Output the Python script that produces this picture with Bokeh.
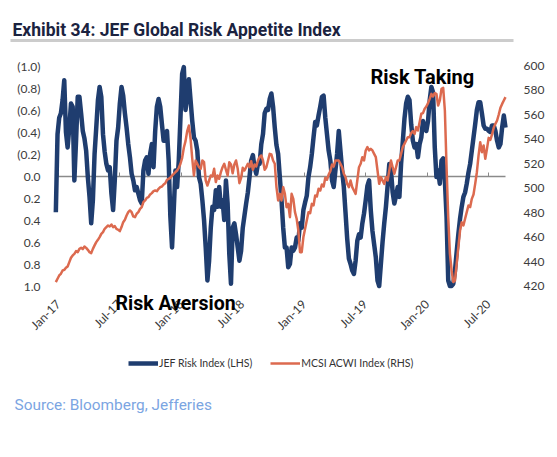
import math
from datetime import datetime
import pandas as pd
from bokeh.plotting import figure
from bokeh.models import (Range1d, LinearAxis, DatetimeAxis, FixedTicker, DatetimeTickFormatter,
                          Label, BoxAnnotation, Legend, LegendItem, ColumnDataSource)
from bokeh.embed import file_html
from bokeh.resources import INLINE

# ---------------- data (one value every 5 days) ----------------
START = "2016-12-25"
STEP = "5D"

JEF = [
    0.33, -0.38, -0.53, -0.57, -0.69, -0.87, -0.40, -0.26, -0.44, -0.66,
    -0.63, 0.04, -0.32, -0.72, -0.72, -0.57, -0.41, -0.34, -0.23, 0.01,
    0.19, 0.43, 0.22, -0.20, -0.44, -0.69, -0.81, -0.72, -0.38, -0.22,
    -0.11, -0.05, -0.08, 0.16, 0.31, 0.04, -0.32, -0.44, -0.66, -0.81,
    -0.73, -0.57, -0.44, -0.29, -0.17, -0.02, 0.04, 0.13, 0.10, 0.16,
    0.22, 0.25, -0.05, -0.14, -0.17, -0.02, -0.20, -0.29, -0.08, -0.41,
    -0.63, -0.70, -0.63, -0.47, -0.32, -0.32, -0.41, -0.14, 0.37,
    0.65, 0.31, -0.05, 0.10, -0.14, -0.53, -0.93, -0.99, -0.60, -0.72,
    -0.88, -0.69, -0.50, -0.35, -0.32, -0.23, 0.01, 0.07, 0.22, 0.40,
    0.65, 0.95, 0.77, 0.47, 0.28, 0.31, 0.13, 0.28, 0.10, 0.28,
    0.22, 0.40, 0.04, 0.25, 0.71, 0.98, 0.47, 0.43, 0.53, 0.65,
    0.77, 0.68, 0.47, 0.36, 0.25, 0.15, 0.01, -0.14, -0.19, -0.08,
    -0.02, -0.11, -0.11, -0.29, -0.38, -0.57, -0.61, -0.60, -0.70, -0.75,
    -0.63, -0.44, -0.28, -0.20, 0.01, 0.22, 0.47,
    0.65, 0.65, 0.83, 0.80, 0.65, 0.68, 0.65, 0.56, 0.59, 0.43,
    0.47, 0.31, 0.24, 0.18, 0.01, -0.08, -0.20, -0.35, -0.49, -0.46,
    -0.55, -0.63, -0.72, -0.73, -0.53, -0.38, -0.23, -0.14, 0.04, 0.10,
    -0.05, -0.20, -0.41, -0.23, -0.05, 0.10, 0.33, 0.57, 0.75, 0.80,
    0.86, 0.89, 0.77, 0.59, 0.53, 0.56, 0.43, 0.34, 0.22, 0.09,
    0.04, 0.31, 0.50, 0.62, 0.74, 0.95, 1.00, 0.80, 0.60, 0.43,
    0.28, 0.09, -0.11, -0.05, 0.15, 0.25, 0.18, 0.10,
    0.19, -0.11, -0.31, -0.52, -0.66, -0.72, -0.69, -0.47, -0.32, -0.26,
    -0.29, -0.17, -0.29, -0.35, -0.50, -0.44, -0.41, -0.50, -0.69, -0.81,
    -0.76, -0.26, 0.01, -0.05, 0.07, -0.14, -0.16, 0.04, 0.37, 0.95,
    1.00, 1.00, 0.98, 0.86, 0.69, 0.53, 0.39, 0.28, 0.19, 0.15,
    0.07, -0.03, -0.11, -0.23, -0.35, -0.47, -0.60, -0.67, -0.67, -0.57,
    -0.46, -0.43, -0.43, -0.41, -0.40, -0.46, -0.46, -0.41, -0.32, -0.26,
    -0.29, -0.44, -0.55, -0.44,
]

ACWI = [
    423.2, 425.9, 428.6, 430.0, 432.7, 433.2, 434.9, 436.0, 439.5, 443.1,
    445.0, 446.3, 448.5, 447.7, 450.4, 451.2, 450.2, 452.3, 451.2, 449.6,
    447.7, 446.9, 450.4, 453.2, 455.9, 457.8, 460.0, 462.7, 464.1, 466.8,
    468.2, 469.5, 468.7, 470.3, 468.2, 469.0, 466.8, 466.0, 464.9, 468.2,
    472.2, 474.2, 477.7, 480.4, 481.8, 480.4, 476.9, 476.3, 479.1, 480.4,
    483.1, 484.5, 488.6, 490.0, 492.1, 492.7, 494.9, 496.0, 497.6, 498.1,
    497.6, 499.5, 500.9, 501.4, 503.1, 504.1, 506.9, 507.7, 508.5,
    510.4, 511.8, 513.1, 514.5, 516.7, 520.0, 524.9, 533.1, 538.5, 546.7,
    551.3, 540.4, 524.1, 510.4, 522.7, 520.0, 517.2, 515.9, 522.7, 521.3,
    506.3, 502.2, 506.3, 510.4, 509.6, 515.9, 505.0, 510.4, 507.7, 513.1,
    517.2, 520.0, 515.1, 510.4, 521.3, 519.4, 512.3, 519.4, 522.7, 515.9,
    504.1, 508.5, 516.7, 514.5, 517.2, 520.0, 517.2, 522.1, 515.1, 519.4,
    517.8, 522.7, 525.4, 526.8, 522.7, 515.1, 517.2, 522.7, 528.1, 527.6,
    522.7, 520.0, 500.9, 490.0, 495.4, 490.0, 500.9,
    495.4, 484.5, 487.2, 476.3, 495.4, 491.3, 480.4, 475.0, 465.4, 447.7,
    447.7, 460.0, 466.8, 473.6, 480.4, 479.6, 487.2, 485.9, 494.1, 493.2,
    499.5, 498.1, 503.1, 501.4, 508.5, 506.9, 511.2, 514.0, 519.4, 517.8,
    522.7, 522.7, 522.7, 520.0, 517.2, 511.8, 509.1, 503.6, 500.9, 506.3,
    500.9, 498.1, 495.4, 506.3, 517.2, 520.0, 525.4, 522.7, 530.9, 533.6,
    530.9, 532.2, 530.9, 528.1, 525.4, 514.5, 503.6, 509.1, 506.3, 503.6,
    509.1, 506.3, 514.5, 522.7, 517.2, 511.8, 517.2, 522.7,
    522.7, 528.1, 533.6, 536.3, 539.0, 541.8, 541.8, 545.1, 546.7, 544.5,
    550.0, 547.2, 554.0, 560.9, 561.4, 565.0, 566.9, 569.6, 573.1, 577.2,
    575.0, 577.8, 577.2, 567.7, 571.8, 581.3, 582.1, 563.6, 517.2, 476.3,
    446.3, 432.7, 423.2, 424.5, 438.1, 451.8, 465.4, 472.2, 469.5, 475.0,
    480.4, 485.9, 484.5, 491.3, 494.9, 503.6, 513.1, 526.8, 537.7, 529.5,
    535.0, 524.1, 532.2, 541.2, 539.6, 544.0, 549.4, 552.7, 555.4, 560.3,
    565.8, 569.0, 571.8, 574.5,
]

X_TICKS = ["2017-01-01", "2017-07-01", "2018-01-01", "2018-07-01",
           "2019-01-01", "2019-07-01", "2020-01-01", "2020-07-01"]
LEFT_TICKS = [-1.0, -0.8, -0.6, -0.4, -0.2, 0.0, 0.2, 0.4, 0.6, 0.8, 1.0]
LEFT_LABELS = ["(1.0)", "(0.8)", "(0.6)", "(0.4)", "(0.2)", "0.0",
               "0.2", "0.4", "0.6", "0.8", "1.0"]
RIGHT_TICKS = [420, 440, 460, 480, 500, 520, 540, 560, 580, 600]

SERIES_NAMES = ["JEF Risk Index (LHS)", "MCSI ACWI Index (RHS)"]
TITLE = "Exhibit 34: JEF Global Risk Appetite Index"
SOURCE = "Source: Bloomberg, Jefferies"

# axis extents of the chart area
X0, X1 = datetime(2016, 12, 24), datetime(2020, 8, 21)
L0, L1 = -1.0, 1.0          # left axis, top -> bottom (inverted)
R0, R1 = 600.0, 420.0       # right axis, top -> bottom

# ---------------- layout (canvas pixels) ----------------
W, H = 557, 457
PL, PW = 55, 450            # chart area left / width
PT, PH = 65.5, 220          # chart area top / height

BLUE = "#1f3d6f"
RED = "#dc6a4f"
TICK_COLOR = "#3c3c3c"
FONT = "Lato"
BOLD_FONT = "Roboto"

# ranges that place the chart area inside a full-canvas frame
day_px = (X1 - X0) / PW
x_start = X0 - PL * day_px
x_end = X1 + (W - PL - PW) * day_px


def frame_range(top_val, bot_val):
    per_px = (bot_val - top_val) / PH
    return Range1d(start=bot_val + (H - PT - PH) * per_px, end=top_val - PT * per_px)


dates = pd.date_range(START, periods=len(JEF), freq=STEP)
src = ColumnDataSource(dict(date=dates, jef=JEF, acwi=ACWI))

p = figure(width=W, height=H, x_axis_type="datetime",
           output_backend="svg", toolbar_location=None,
           x_range=Range1d(x_start, x_end), y_range=frame_range(L0, L1),
           min_border=0)
p.extra_y_ranges = {"acwi": frame_range(R0, R1)}
p.outline_line_color = None
p.xgrid.visible = False
p.ygrid.visible = False
p.background_fill_color = "white"
p.border_fill_color = "white"

ms = lambda d: pd.Timestamp(d).value / 1e6


def style_axis(ax, standoff):
    ax.axis_line_color = None
    ax.major_tick_line_color = None
    ax.minor_tick_line_color = None
    ax.major_label_text_font = FONT
    ax.major_label_text_font_size = "12px"
    ax.major_label_text_color = TICK_COLOR
    ax.major_label_standoff = standoff


# left axis
yl = p.yaxis[0]
yl.ticker = FixedTicker(ticks=LEFT_TICKS)
yl.major_label_overrides = dict(zip(LEFT_TICKS, LEFT_LABELS))
yl.fixed_location = ms(X0)
style_axis(yl, 9)

# right axis
yr = LinearAxis(y_range_name="acwi", ticker=FixedTicker(ticks=RIGHT_TICKS),
                fixed_location=ms(X1))
style_axis(yr, 12)
p.add_layout(yr, "right")

# bottom axis (labels)
x_ticks_ms = [ms(t) for t in X_TICKS]
fmt = "%b-%y"
xa = p.xaxis[0]
xa.ticker = FixedTicker(ticks=x_ticks_ms)
xa.formatter = DatetimeTickFormatter(milliseconds=fmt, seconds=fmt, minsec=fmt, minutes=fmt,
                                     hourmin=fmt, hours=fmt, days=fmt, months=fmt, years=fmt)
xa.major_label_orientation = math.pi / 4
xa.fixed_location = L1
style_axis(xa, 10)

# zero line with small tick marks (axis crossing at 0)
xz = DatetimeAxis(ticker=FixedTicker(ticks=x_ticks_ms), fixed_location=0.0,
                  bounds=(X0, X1), level="underlay")
xz.axis_line_color = "#8a8a8a"
xz.axis_line_width = 1.5
xz.major_tick_line_color = "#8a8a8a"
xz.major_tick_in = 4
xz.major_tick_out = 0
xz.minor_tick_line_color = None
xz.major_label_text_alpha = 0
xz.major_label_text_font_size = "1px"
p.add_layout(xz, "below")

blue = p.line("date", "jef", source=src, line_color=BLUE, line_width=4.5, line_join="round")
red = p.line("date", "acwi", source=src, y_range_name="acwi", line_color=RED,
             line_width=2.5, line_join="round")

# screen positions below are measured from the canvas bottom-left
legend = Legend(items=[LegendItem(label=SERIES_NAMES[0], renderers=[blue]),
                       LegendItem(label=SERIES_NAMES[1], renderers=[red])],
                location=(128, 87), orientation="horizontal",
                glyph_width=30, glyph_height=14, label_height=14, label_standoff=1,
                spacing=18, padding=0, margin=0, border_line_color=None,
                background_fill_alpha=0, label_text_font=FONT,
                label_text_font_size="10.5px", label_text_color="#333333")
p.add_layout(legend)

p.add_layout(Label(x=12, y=427.5, x_units="screen", y_units="screen", text=TITLE,
                   text_font=BOLD_FONT, text_font_style="bold", text_font_size="17.5px",
                   text_color="#1b2340", text_baseline="alphabetic"))
p.add_layout(BoxAnnotation(left=10, right=513, bottom=415.5, top=418.5,
                           left_units="screen", right_units="screen",
                           top_units="screen", bottom_units="screen",
                           fill_color="#cccccc", fill_alpha=1.0, line_color=None))
p.add_layout(Label(x=370, y=381, x_units="screen", y_units="screen", text="Risk Taking",
                   text_font=BOLD_FONT, text_font_style="bold", text_font_size="20px",
                   text_color="black", text_baseline="alphabetic"))
p.add_layout(Label(x=115, y=154, x_units="screen", y_units="screen", text="Risk Aversion",
                   text_font=BOLD_FONT, text_font_style="bold", text_font_size="19.5px",
                   text_color="black", text_baseline="alphabetic"))
p.add_layout(Label(x=14, y=52.5, x_units="screen", y_units="screen", text=SOURCE,
                   text_font=BOLD_FONT, text_font_size="15.4px",
                   text_color="#7ba5e2", text_baseline="alphabetic"))

open("out.html", "w").write(file_html(p, INLINE))
